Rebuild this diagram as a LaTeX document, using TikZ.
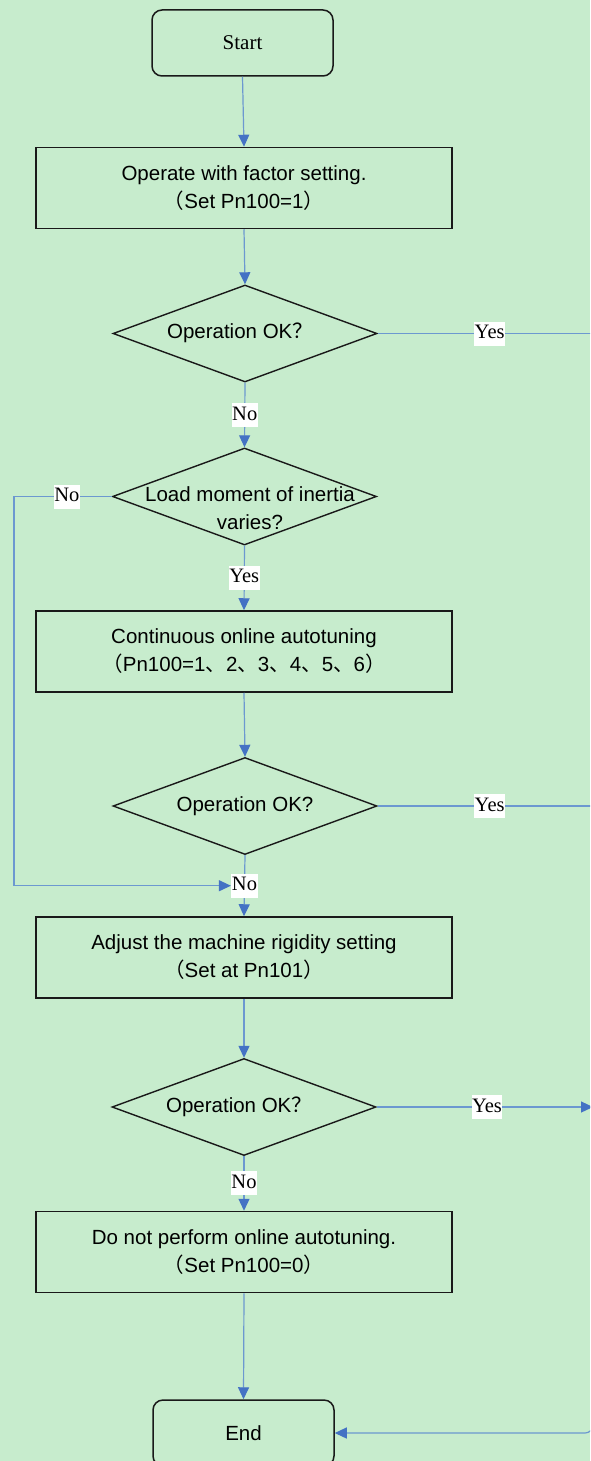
\documentclass[tikz,border=0pt]{standalone}
\usepackage{fontspec}
\setmainfont{Liberation Serif}
\newfontfamily\arialf{Liberation Sans}
\newfontfamily\cjk{Noto Sans CJK SC}
\usetikzlibrary{shapes.geometric,arrows.meta}
\definecolor{bgc}{RGB}{199,236,205}
\definecolor{linec}{RGB}{108,152,208}
\definecolor{tipc}{RGB}{68,114,196}
\tikzset{
  boxfont/.style={font=\arialf\fontsize{20.5}{28}\selectfont, align=center},
  procbox/.style={draw=black!90, line width=1.5pt, minimum width=416pt, minimum height=81pt, inner sep=0pt},
  termbox/.style={draw=black!90, line width=1.5pt, rounded corners=10pt, minimum width=181pt, minimum height=66pt, inner sep=0pt},
  dia/.style={draw=black!90, line width=1.4pt, diamond, minimum width=264pt, minimum height=97pt, inner sep=0pt},
  conn/.style={draw=linec, line width=1.2pt},
  arr/.style={conn, -{Triangle[length=12pt,width=11pt,color=tipc]}},
  lbl/.style={fill=white, inner xsep=0.5pt, inner ysep=2pt, text height=15pt, text depth=5pt, font=\fontsize{20.5}{24}\selectfont}
}
\begin{document}
\begin{tikzpicture}[x=1pt,y=-1pt]
\fill[bgc] (0,0) rectangle (590,1461);
\useasboundingbox (0,0) rectangle (590,1461);
\clip (0,0) rectangle (590,1461);

% nodes
\node[termbox, font=\fontsize{21}{24}\selectfont] (start) at (242.5,43) {Start};
\node[procbox, boxfont] (b1) at (244,188) {Operate with factor setting.\\{\cjk （}Set Pn100=1{\cjk ）}};
\node[dia] (d1) at (245,333.5) {};
\node[boxfont] (t1) at (240,333) {Operation OK{\cjk ？}};
\node[dia] (d2) at (244.5,496.5) {};
\node[boxfont] (t2) at (250,508) {Load moment of inertia\\varies?};
\node[procbox, boxfont] (b2) at (244,651.5) {Continuous online autotuning\\{\cjk （}Pn100=1{\cjk 、}2{\cjk 、}3{\cjk 、}4{\cjk 、}5{\cjk 、}6{\cjk ）}};
\node[dia] (d3) at (245,806) {};
\node[boxfont] (t3) at (245,806) {Operation OK?};
\node[procbox, boxfont] (b3) at (244,957.5) {Adjust the machine rigidity setting\\{\cjk （}Set at Pn101{\cjk ）}};
\node[dia] (d4) at (244,1107) {};
\node[boxfont] (t4) at (239,1107) {Operation OK{\cjk ？}};
\node[procbox, boxfont] (b4) at (244,1252) {Do not perform online autotuning.\\{\cjk （}Set Pn100=0{\cjk ）}};
\node[termbox, boxfont] (end) at (243.5,1433) {End};

\coordinate (R1) at (593,333.5);
\coordinate (R3) at (593,806);
\coordinate (R4) at (593,1107);
\coordinate (W1) at (14,496.5);

% connectors
\draw[arr] (start.south) -- (b1.north);
\draw[arr] (b1.south) -- (d1.north);
\draw[arr] (d1.south) -- node[lbl] (n1) {No} (d2.north);
\draw[arr] (d2.south) -- node[lbl] (y2) {Yes} (b2.north);
\draw[arr] (b2.south) -- (d3.north);
\draw[arr] (d3.south) -- node[lbl] (n3) {No} (b3.north);
\draw[arr] (b3.south) -- (d4.north);
\draw[arr] (d4.south) -- node[lbl] (n4) {No} (b4.north);
\draw[arr] (b4.south) -- (end.north);

\draw[conn] (d1.east) -- node[lbl, pos=0.52] (y1) {Yes} (R1);
\draw[conn] (d3.east) -- node[lbl, pos=0.52] (y3) {Yes} (R3);
\draw[arr] (d4.east) -- node[lbl, pos=0.51] (y4) {Yes} (R4);
\draw[arr, rounded corners=8pt] (R1) |- (end.east);
\draw[arr] (d2.west) -- node[lbl, pos=0.46] (n2) {No} (W1) |- (n3.west);
\end{tikzpicture}
\end{document}
